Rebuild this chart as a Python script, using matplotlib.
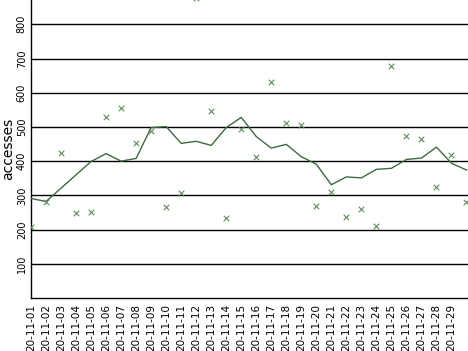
import matplotlib
matplotlib.use("Agg")
import matplotlib.pyplot as plt

dates = [f"20-11-{d:02d}" for d in range(1, 31)]
daily = [208, 282, 423, 248, 251, 528, 555, 452, 489, 265,
         306, 878, 546, 233, 493, 412, 631, 511, 505, 269,
         309, 236, 259, 210, 677, 473, 464, 325, 417, 280]
trend = [291, 282, 321, 360, 399, 422, 400, 408, 498, 501,
         452, 458, 446, 498, 528, 472, 438, 449, 413, 391,
         331, 354, 351, 376, 379, 405, 409, 441, 394, 374]
yticks = [100, 200, 300, 400, 500, 600, 700, 800]
ylabel = "accesses"

fig = plt.figure(figsize=(4.68, 3.51), dpi=100)
ax = fig.add_axes([31 / 468, 53 / 351, 437 / 468, 298 / 351])

x = list(range(len(dates)))
ax.plot(x, trend, color="#3d6b3d", lw=1.0, zorder=3)
ax.scatter(x, daily, marker="x", s=16, color="#5a8f5a", linewidths=0.8, zorder=4)

ax.set_xlim(0, 29.1)
ax.set_ylim(0, 871)
ax.set_yticks(yticks)
ax.set_yticklabels([str(v) for v in yticks], rotation=90, va="center", fontsize=7)
ax.set_xticks(x[:29])
ax.set_xticklabels(dates[:29], rotation=90, fontsize=7.5)
ax.tick_params(axis="both", length=0)
ax.tick_params(axis="x", pad=4)
ax.tick_params(axis="y", pad=3)
for v in yticks:
    ax.axhline(v, color="black", lw=1.0, zorder=1)
ax.spines["top"].set_visible(False)
ax.spines["right"].set_visible(False)
ax.spines["left"].set_linewidth(1.0)
ax.spines["bottom"].set_linewidth(1.0)
ax.set_ylabel(ylabel, fontsize=10)
ax.yaxis.set_label_coords(-0.036, 0.5)

fig.savefig("out.png", dpi=100)
